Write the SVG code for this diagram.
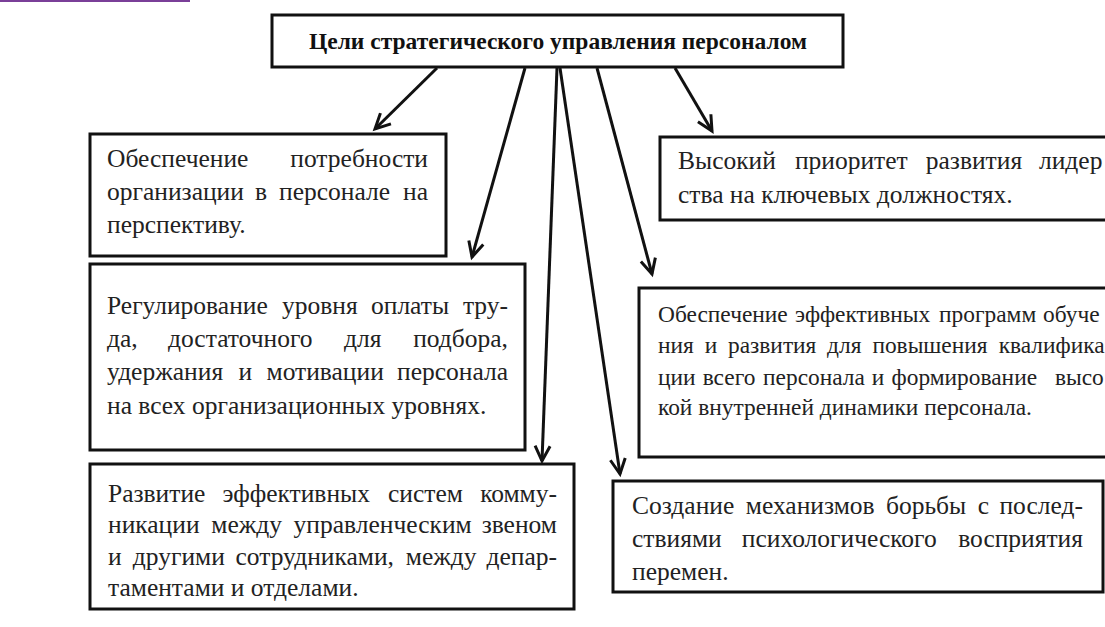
<svg xmlns="http://www.w3.org/2000/svg" width="1105" height="627" viewBox="0 0 1105 627">
<style>
.box{fill:#fff;stroke:#111;stroke-width:3}
.t{font-family:"Liberation Serif","Times New Roman",serif;font-size:25.5px;fill:#222}
.ts{font-family:"Liberation Serif","Times New Roman",serif;font-size:23.4px;fill:#222}
.title{font-family:"Liberation Serif","Times New Roman",serif;font-size:23.5px;font-weight:bold;fill:#111}
.c{stroke:#111;stroke-width:3;fill:none}
.e{text-anchor:end}
</style>
<defs>
<marker id="ah" markerUnits="userSpaceOnUse" viewBox="-18 -10 20 20" refX="0" refY="0" markerWidth="20" markerHeight="20" orient="auto" overflow="visible">
<path d="M-15,-7.5 L0,0 L-15,7.5" fill="none" stroke="#111" stroke-width="3" stroke-linejoin="miter"/>
</marker>
</defs>
<rect x="0" y="0" width="190" height="2" fill="#7a3f98"/>
<g id="connectors">
<line class="c" x1="437" y1="68" x2="375" y2="129" marker-end="url(#ah)"/>
<line class="c" x1="525" y1="68" x2="472" y2="257" marker-end="url(#ah)"/>
<line class="c" x1="557" y1="68" x2="542" y2="461" marker-end="url(#ah)"/>
<line class="c" x1="560" y1="68" x2="620" y2="474" marker-end="url(#ah)"/>
<line class="c" x1="597" y1="68" x2="652" y2="274" marker-end="url(#ah)"/>
<line class="c" x1="675" y1="68" x2="712" y2="131" marker-end="url(#ah)"/>
</g>
<g id="root">
<rect class="box" x="272" y="15" width="571" height="52"/>
<text class="title" x="558" y="49" text-anchor="middle">Цели стратегического управления персоналом</text>
</g>
<g id="n1">
<rect class="box" x="90" y="134" width="356" height="122"/>
<text class="t"><tspan x="107" y="167">Обеспечение</tspan><tspan class="e" x="428" y="167">потребности</tspan><tspan x="107" y="200">организации</tspan><tspan x="255" y="200">в</tspan><tspan x="279" y="200">персонале</tspan><tspan class="e" x="428" y="200">на</tspan><tspan x="107" y="233">перспективу.</tspan></text>
</g>
<g id="n2">
<rect class="box" x="90" y="264" width="435" height="186"/>
<text class="t"><tspan x="107" y="314">Регулирование</tspan><tspan x="282" y="314">уровня</tspan><tspan x="371" y="314">оплаты</tspan><tspan class="e" x="508" y="314">тру-</tspan><tspan x="107" y="347">да,</tspan><tspan x="168" y="347">достаточного</tspan><tspan x="344" y="347">для</tspan><tspan class="e" x="508" y="347">подбора,</tspan><tspan x="107" y="380">удержания</tspan><tspan x="238.5" y="380">и</tspan><tspan x="266.5" y="380">мотивации</tspan><tspan class="e" x="508" y="380">персонала</tspan><tspan x="107" y="414">на всех организационных уровнях.</tspan></text>
</g>
<g id="n3">
<rect class="box" x="90" y="464" width="484" height="145"/>
<text class="t"><tspan x="108" y="502">Развитие</tspan><tspan x="222.5" y="502">эффективных</tspan><tspan x="388" y="502">систем</tspan><tspan class="e" x="557" y="502">комму-</tspan><tspan x="108" y="533">никации</tspan><tspan x="211.3" y="533">между</tspan><tspan x="293.6" y="533">управленческим</tspan><tspan class="e" x="557" y="533">звеном</tspan><tspan x="108" y="565">и</tspan><tspan x="132.8" y="565">другими</tspan><tspan x="235.5" y="565">сотрудниками,</tspan><tspan x="405.8" y="565">между</tspan><tspan class="e" x="557" y="565">депар-</tspan><tspan x="108" y="596">таментами и отделами.</tspan></text>
</g>
<g id="n4">
<rect class="box" x="660" y="137" width="460" height="83"/>
<text class="t"><tspan x="678" y="169">Высокий</tspan><tspan x="794.9" y="169">приоритет</tspan><tspan x="925.8" y="169">развития</tspan><tspan x="1039" y="169">лидер</tspan><tspan x="678" y="203">ства на ключевых должностях.</tspan></text>
</g>
<g id="n5">
<rect class="box" x="639" y="288" width="480" height="169"/>
<text class="ts"><tspan x="658" y="322">Обеспечение</tspan><tspan x="795" y="322">эффективных</tspan><tspan x="939" y="322">программ</tspan><tspan x="1043" y="322">обуче</tspan><tspan x="658" y="353">ния</tspan><tspan x="704.7" y="353">и</tspan><tspan x="728" y="353">развития</tspan><tspan x="827.1" y="353">для</tspan><tspan x="872.4" y="353">повышения</tspan><tspan x="998.7" y="353">квалифика</tspan><tspan x="658" y="385">ции</tspan><tspan x="702.7" y="385">всего</tspan><tspan x="763.1" y="385">персонала</tspan><tspan x="871.7" y="385">и</tspan><tspan x="891.6" y="385">формирование</tspan><tspan x="1054.9" y="385">высо</tspan><tspan x="658" y="415">кой внутренней динамики персонала.</tspan></text>
</g>
<g id="n6">
<rect class="box" x="613" y="481" width="490" height="111"/>
<text class="t"><tspan x="632" y="514">Создание</tspan><tspan x="745.8" y="514">механизмов</tspan><tspan x="886" y="514">борьбы</tspan><tspan x="977.8" y="514">с</tspan><tspan class="e" x="1083" y="514">послед-</tspan><tspan x="632" y="547">ствиями</tspan><tspan x="741.8" y="547">психологического</tspan><tspan class="e" x="1083" y="547">восприятия</tspan><tspan x="632" y="580">перемен.</tspan></text>
</g>
</svg>
